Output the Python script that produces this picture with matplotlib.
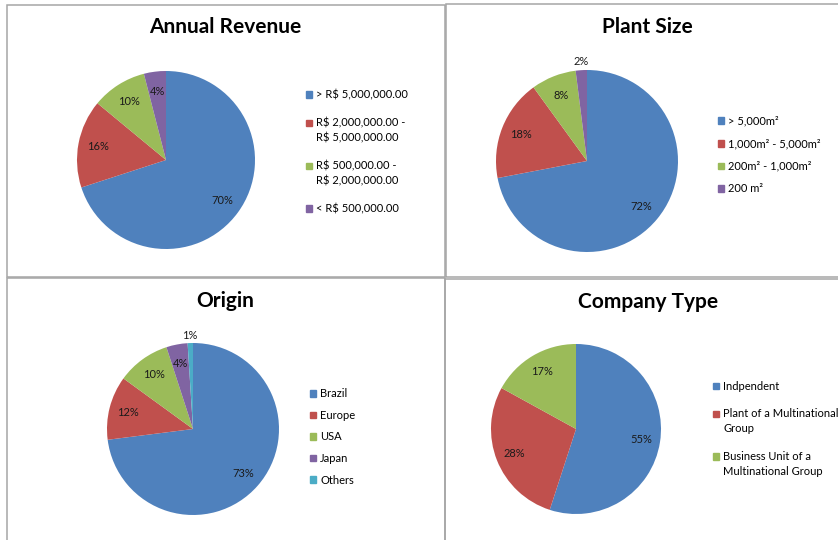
import matplotlib
matplotlib.use("Agg")
import matplotlib.pyplot as plt
from matplotlib.patches import Patch, Rectangle
from matplotlib.legend_handler import HandlerPatch

plt.rcParams['font.family'] = ['Lato', 'DejaVu Sans']

# data
revenue_labels = ['> R$ 5,000,000.00', 'R$ 2,000,000.00 -\nR$ 5,000,000.00',
                  'R$ 500,000.00 -\nR$ 2,000,000.00', '< R$ 500,000.00']
revenue_values = [70, 16, 10, 4]

size_labels = ['> 5,000m²', '1,000m² - 5,000m²', '200m² - 1,000m²', '200 m²']
size_values = [72, 18, 8, 2]

origin_labels = ['Brazil', 'Europe', 'USA', 'Japan', 'Others']
origin_values = [73, 12, 10, 4, 1]

type_labels = ['Indpendent', 'Plant of a Multinational\nGroup',
               'Business Unit of a\nMultinational Group']
type_values = [55, 28, 17]

colors = ['#4F81BD', '#C0504D', '#9BBB59', '#8064A2', '#4BACC6']

W, H = 838, 540
LINESP = 1.45
fig = plt.figure(figsize=(W / 100, H / 100), dpi=100)

# panel borders (pixels: x0, y0, x1, y1)
for x0, y0, x1, y1 in [(7, 5, 445, 277), (446, 4, 845, 277),
                       (7, 278, 445, 548), (445, 279, 845, 548)]:
    fig.patches.append(Rectangle((x0 / W, 1 - y1 / H), (x1 - x0) / W, (y1 - y0) / H,
                                 transform=fig.transFigure, fill=False,
                                 edgecolor='#a6a6a6', linewidth=1.1))


def top_line_patch(legend, orig_handle, xdescent, ydescent, width, height, fontsize):
    # Excel puts the marker next to the first line of a wrapped entry
    shift = (orig_handle.nlines - 1) * 0.5 * LINESP * fontsize
    return Rectangle((-xdescent, -ydescent + shift), width, height)


def pie_panel(values, labels, title, cx, cy, r, title_xy, leg_x, leg_y, spacing):
    ax = fig.add_axes([(cx - r) / W, 1 - (cy + r) / H, 2 * r / W, 2 * r / H])
    wedges, texts, autotexts = ax.pie(values, colors=colors[:len(values)],
                                      startangle=90, counterclock=False,
                                      autopct='%d%%', pctdistance=0.78,
                                      wedgeprops=dict(linewidth=0),
                                      textprops=dict(fontsize=8, color='#1a1a1a'))
    # small slices get their label outside, as Excel's best fit does
    for v, t in zip(values, autotexts):
        if v <= 2:
            x, y = t.get_position()
            t.set_position((x * 1.4, y * 1.4))
    ax.set_xlim(-1, 1)
    ax.set_ylim(-1, 1)
    ax.set_aspect('equal')
    fig.text(title_xy[0] / W, 1 - title_xy[1] / H, title, fontsize=15,
             fontweight='bold', ha='center', va='center')
    handles = []
    for c, lab in zip(colors, labels):
        p = Patch(color=c)
        p.nlines = lab.count('\n') + 1
        handles.append(p)
    leg = fig.legend(handles, labels, loc='center left',
                     bbox_to_anchor=(leg_x / W, 1 - leg_y / H), frameon=False,
                     fontsize=8, handlelength=0.55, handleheight=0.55,
                     handletextpad=0.35, borderpad=0, borderaxespad=0,
                     labelspacing=spacing,
                     handler_map={Patch: HandlerPatch(patch_func=top_line_patch)})
    for t in leg.get_texts():
        t.set_linespacing(LINESP)


pie_panel(revenue_values, revenue_labels, 'Annual Revenue', 166, 160, 89,
          (225, 27), 306, 152, 1.5)
pie_panel(size_values, size_labels, 'Plant Size', 587, 161, 91,
          (647, 27), 718, 155, 1.05)
pie_panel(origin_values, origin_labels, 'Origin', 193, 429, 86,
          (225, 301), 310, 437, 0.95)
pie_panel(type_values, type_labels, 'Company Type', 576, 429, 85,
          (648, 302), 713, 429, 1.5)

fig.savefig('out.png', dpi=100)
